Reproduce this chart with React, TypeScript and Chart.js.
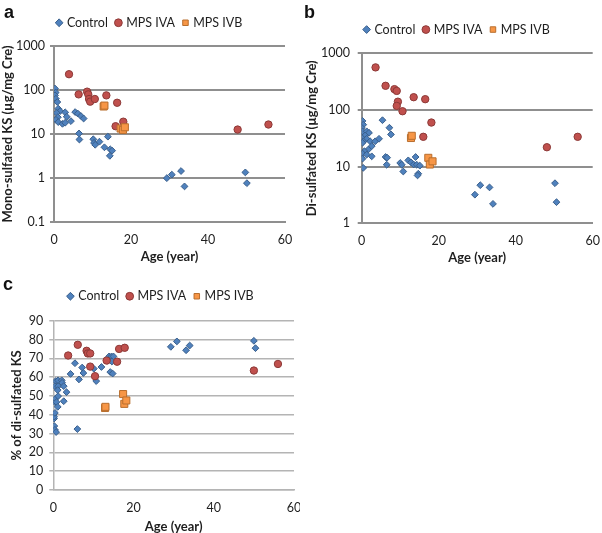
import React, { useEffect, useRef } from 'react';
import { Chart, registerables } from 'chart.js';

Chart.register(...registerables);

// ---------- data ----------
const AGE_TICKS = [0, 20, 40, 60];
const LOG_TICKS_A = [0.1, 1, 10, 100, 1000];
const LOG_TICKS_B = [1, 10, 100, 1000];
const PCT_TICKS_C = [0, 10, 20, 30, 40, 50, 60, 70, 80, 90];
const LEGEND_LABELS = ['Control', 'MPS IVA', 'MPS IVB'];

// Panel a: mono-sulfated KS (µg/mg Cre)
const A_CONTROL_AGE = [0.26, 0.44, 0.26, 0.5, 0.86, 1.1, 1.6, 0.7, 1.0, 0.5, 1.1, 2.2, 2.9, 2.9, 3.3, 4.4, 5.5, 6.2, 7.0, 7.7, 6.5, 6.6, 10.2, 10.4, 10.7, 11.8, 13.1, 14.0, 14.6, 15.1, 14.5, 29.3, 30.6, 33.0, 33.9, 49.7, 50.1];
const A_CONTROL_VAL = [107, 87, 75, 63, 53, 37.5, 33, 30, 24, 21, 18.6, 17, 18, 31, 24.6, 19.6, 31.4, 29, 25.5, 22.4, 10.3, 7.5, 7.6, 6.3, 5.7, 6.7, 5.0, 8.7, 4.5, 4.2, 3.2, 1.0, 1.2, 1.45, 0.65, 1.35, 0.77];
const A_IVA_AGE = [3.9, 6.4, 8.6, 8.9, 9.1, 9.4, 10.6, 13.6, 16.4, 16.0, 18.0, 47.7, 55.7];
const A_IVA_VAL = [226, 79, 91, 79, 62, 54, 62, 75, 51, 15, 19, 12.6, 16.4];
const A_IVB_AGE = [12.9, 13.1, 17.3, 17.9, 18.4];
const A_IVB_VAL = [42, 44, 13.3, 12.4, 14.2];

// Panel b: di-sulfated KS (µg/mg Cre)
const B_CONTROL_AGE = [0.2, 0.4, 0, 0.2, 1.3, 1.9, 0.9, 0, 1.3, 0.4, 0.2, 2.2, 3.5, 4.5, 2.6, 1.7, 0.7, 0.2, 1.3, 0.2, 2.6, 0.4, 5.4, 7.2, 7.6, 6.2, 6.6, 6.5, 10.0, 10.4, 10.8, 12.1, 12.8, 13.5, 14.0, 14.3, 14.7, 14.5, 15.1, 29.4, 30.8, 33.2, 34.1, 50.2, 50.6];
const B_CONTROL_VAL = [64, 55, 48.6, 42, 42, 39.5, 35.5, 32.3, 31, 28, 26.3, 28, 28, 31, 23, 20, 18.7, 17, 16.3, 13.8, 15.2, 9.5, 66, 48.6, 37, 14.8, 14.4, 10.8, 11.6, 10.8, 8.2, 12.9, 11.9, 10.9, 14.8, 10.8, 7.5, 7.0, 10.4, 3.2, 4.7, 4.3, 2.2, 5.1, 2.36];
const B_IVA_AGE = [3.6, 6.2, 8.5, 9.1, 9.4, 9.1, 10.6, 13.5, 16.5, 18.1, 16.0, 48.1, 56.1];
const B_IVA_VAL = [564, 267, 233, 217, 140, 118, 95, 168, 155, 60, 33.6, 22, 33.6];
const B_IVB_AGE = [12.8, 13.0, 17.3, 17.7, 18.4];
const B_IVB_VAL = [32, 35, 14.3, 10.9, 12.4];

// Panel c: % of di-sulfated KS
const C_CONTROL_AGE = [0, 0.2, 0.25, 0.4, 0.7, 0.2, 0.4, 0.4, 0.5, 0.8, 1.2, 1.1, 0.6, 1.2, 0.4, 1.2, 1.1, 2.1, 2.2, 2.6, 2.6, 3.3, 4.3, 5.4, 6.0, 6.4, 7.2, 7.5, 10.1, 10.7, 12.0, 13.5, 13.9, 14.5, 15.0, 14.2, 14.8, 14.6, 29.3, 30.8, 33.1, 34.0, 50.0, 50.4];
const C_CONTROL_VAL = [40, 38, 34, 32, 30.8, 39, 41, 46.7, 48.5, 46.7, 49.9, 44.2, 57.9, 58.3, 55.2, 55.2, 53.1, 58.3, 57, 55.2, 47.2, 52, 61.7, 67.4, 32.4, 58.8, 65.1, 62.2, 64.5, 57.9, 65.4, 68.8, 71, 71, 71, 62.7, 61.9, 68.3, 76.1, 79, 74.3, 76.8, 79.3, 75.4];
const C_IVA_AGE = [3.7, 6.1, 8.3, 8.6, 9.2, 9.2, 10.4, 13.3, 15.9, 16.4, 17.8, 50.0, 56.0];
const C_IVA_VAL = [71.5, 77.2, 74.0, 72.6, 72.6, 65.6, 60.5, 68.8, 68.2, 75.0, 75.6, 63.5, 67.0];
const C_IVB_AGE = [12.9, 13.0, 17.4, 17.7, 18.2];
const C_IVB_VAL = [43.6, 44.2, 51.0, 45.8, 47.6];

// ---------- styles ----------
const FONT = 'Lato, "Noto Sans", sans-serif';
const TEXT = '#1e1e1e';

const SERIES_STYLE = [
  { pointStyle: 'rectRot', radius: 3.4, bg: '#4F81BD', border: '#3A5F8B', order: 3 },
  { pointStyle: 'circle', radius: 3.7, bg: '#C0504D', border: '#8C3A38', order: 2 },
  { pointStyle: 'rect', radius: 5, bg: '#F79646', border: '#B86E2E', order: 1 },
];

type PanelCfg = {
  W: number; H: number;
  padL: number; padR: number; padT: number; legendExtra: number;
  yW: number; rightW: number; xH: number;
  yTitle: string; yTitlePad: number; xTitlePad: number;
  xTickPad: number; yTickPad: number;
  yType: string; yMin: number; yMax: number; yTicks: number[];
  gridColor: string; gridWidth: number;
  series: { ages: number[]; vals: number[] }[];
};

const legendGap = {
  id: 'legendGap',
  beforeLayout(chart: any, _args: any, opts: any) {
    const lg = chart.legend;
    if (lg && !lg.__patched) {
      const fit = lg.fit;
      lg.fit = function () {
        fit.call(this);
        this.height += opts.extra || 0;
      };
      lg.__patched = true;
    }
  },
};

function buildConfig(p: PanelCfg): any {
  const tickFont = { family: FONT, size: 12.5 };
  const titleFont = { family: FONT, size: 13, weight: 'bold' as const, lineHeight: 1.2 };
  return {
    type: 'scatter',
    data: {
      datasets: p.series.map((s, i) => ({
        label: LEGEND_LABELS[i],
        data: s.ages.map((a, j) => ({ x: a, y: s.vals[j] })),
        pointStyle: SERIES_STYLE[i].pointStyle,
        pointRadius: SERIES_STYLE[i].radius,
        pointHoverRadius: SERIES_STYLE[i].radius,
        backgroundColor: SERIES_STYLE[i].bg,
        borderColor: SERIES_STYLE[i].border,
        borderWidth: 1,
        order: SERIES_STYLE[i].order,
        showLine: false,
      })),
    },
    options: {
      responsive: false,
      animation: false,
      layout: { padding: { left: p.padL, right: p.padR, top: p.padT, bottom: 0 } },
      plugins: {
        tooltip: { enabled: false },
        legend: {
          display: true,
          position: 'top',
          labels: {
            usePointStyle: true,
            boxWidth: 3,
            boxHeight: 5.5,
            padding: 9,
            color: TEXT,
            font: { family: FONT, size: 12.5 },
            sort: (a: any, b: any) => a.datasetIndex - b.datasetIndex,
          },
        },
        legendGap: { extra: p.legendExtra },
      },
      scales: {
        x: {
          type: 'linear',
          min: 0,
          max: 60,
          afterBuildTicks: (s: any) => { s.ticks = AGE_TICKS.map((v) => ({ value: v })); },
          grid: { display: false, drawTicks: false },
          border: { display: true, color: p.gridColor, width: p.gridWidth },
          ticks: { padding: p.xTickPad, font: tickFont, color: TEXT, callback: (v: any) => String(v) },
          title: { display: true, text: 'Age (year)', font: titleFont, color: TEXT, padding: { top: 0, bottom: p.xTitlePad } },
          afterFit: (s: any) => { s.height = p.xH; s.paddingLeft = 0; s.paddingRight = 0; },
        },
        y: {
          type: p.yType,
          min: p.yMin,
          max: p.yMax,
          afterBuildTicks: (s: any) => { s.ticks = p.yTicks.map((v) => ({ value: v })); },
          grid: { display: true, drawOnChartArea: true, color: p.gridColor, drawTicks: true, tickLength: 4, lineWidth: p.gridWidth },
          border: { display: true, color: p.gridColor, width: p.gridWidth },
          ticks: { padding: p.yTickPad, font: tickFont, color: TEXT, callback: (v: any) => String(v) },
          title: { display: true, text: p.yTitle, font: titleFont, color: TEXT, padding: { top: p.yTitlePad, bottom: 0 } },
          afterFit: (s: any) => { s.width = p.yW; s.paddingTop = 0; s.paddingBottom = 0; },
        },
        pad: {
          type: 'linear',
          position: 'right',
          display: true,
          grid: { display: false, drawTicks: false },
          border: { display: false },
          ticks: { display: false },
          afterFit: (s: any) => { s.width = p.rightW; s.paddingTop = 0; s.paddingBottom = 0; },
        },
      },
    },
    plugins: [legendGap],
  };
}

const PANEL_A: PanelCfg = {
  W: 300, H: 268, padL: 0, padR: 0, padT: 7.5, legendExtra: 6.7,
  yW: 54, rightW: 15, xH: 45.7,
  yTitle: 'Mono-sulfated KS (µg/mg Cre)', yTitlePad: 0.5, xTitlePad: 3.5,
  xTickPad: 10, yTickPad: 5,
  yType: 'logarithmic', yMin: 0.1, yMax: 1000, yTicks: LOG_TICKS_A,
  gridColor: '#8F8F8F', gridWidth: 2,
  series: [
    { ages: A_CONTROL_AGE, vals: A_CONTROL_VAL },
    { ages: A_IVA_AGE, vals: A_IVA_VAL },
    { ages: A_IVB_AGE, vals: A_IVB_VAL },
  ],
};

const PANEL_B: PanelCfg = {
  W: 302, H: 268, padL: 0, padR: -13, padT: 14.3, legendExtra: 7.5,
  yW: 61.7, rightW: 22.3, xH: 44.7,
  yTitle: 'Di-sulfated KS (µg/mg Cre)', yTitlePad: 4.2, xTitlePad: 2.5,
  xTickPad: 10, yTickPad: 7.7,
  yType: 'logarithmic', yMin: 1, yMax: 1000, yTicks: LOG_TICKS_B,
  gridColor: '#8F8F8F', gridWidth: 2,
  series: [
    { ages: B_CONTROL_AGE, vals: B_CONTROL_VAL },
    { ages: B_IVA_AGE, vals: B_IVA_VAL },
    { ages: B_IVB_AGE, vals: B_IVB_VAL },
  ],
};

const PANEL_C: PanelCfg = {
  W: 300, H: 265, padL: 0, padR: -22.6, padT: 13, legendExtra: 8.2,
  yW: 53.3, rightW: 25.3, xH: 43,
  yTitle: '% of di-sulfated KS', yTitlePad: 9.2, xTitlePad: -1.2,
  xTickPad: 10, yTickPad: 6,
  yType: 'linear', yMin: 0, yMax: 90, yTicks: PCT_TICKS_C,
  gridColor: '#B4B4B4', gridWidth: 1.5,
  series: [
    { ages: C_CONTROL_AGE, vals: C_CONTROL_VAL },
    { ages: C_IVA_AGE, vals: C_IVA_VAL },
    { ages: C_IVB_AGE, vals: C_IVB_VAL },
  ],
};

function Panel({ cfg, left, top }: { cfg: PanelCfg; left: number; top: number }) {
  const ref = useRef<HTMLCanvasElement>(null);
  useEffect(() => {
    if (!ref.current) return;
    const chart = new Chart(ref.current, buildConfig(cfg));
    return () => chart.destroy();
  }, [cfg]);
  return (
    <canvas
      ref={ref}
      width={cfg.W}
      height={cfg.H}
      style={{ position: 'absolute', left, top, width: cfg.W, height: cfg.H }}
    />
  );
}

const letterStyle = (left: number, top: number): React.CSSProperties => ({
  position: 'absolute',
  left,
  top,
  fontFamily: '"Liberation Sans", Arial, sans-serif',
  fontWeight: 'bold',
  fontSize: 18,
  lineHeight: '18px',
  color: '#111',
});

export default function App() {
  return (
    <div style={{ position: 'absolute', left: 0, top: 0, width: 602, height: 533, overflow: 'hidden', background: '#ffffff' }}>
      <Panel cfg={PANEL_A} left={0} top={0} />
      <Panel cfg={PANEL_B} left={300} top={0} />
      <Panel cfg={PANEL_C} left={0} top={268} />
      <div style={letterStyle(4, 3)}>a</div>
      <div style={letterStyle(304, 3)}>b</div>
      <div style={letterStyle(3, 275)}>c</div>
    </div>
  );
}
